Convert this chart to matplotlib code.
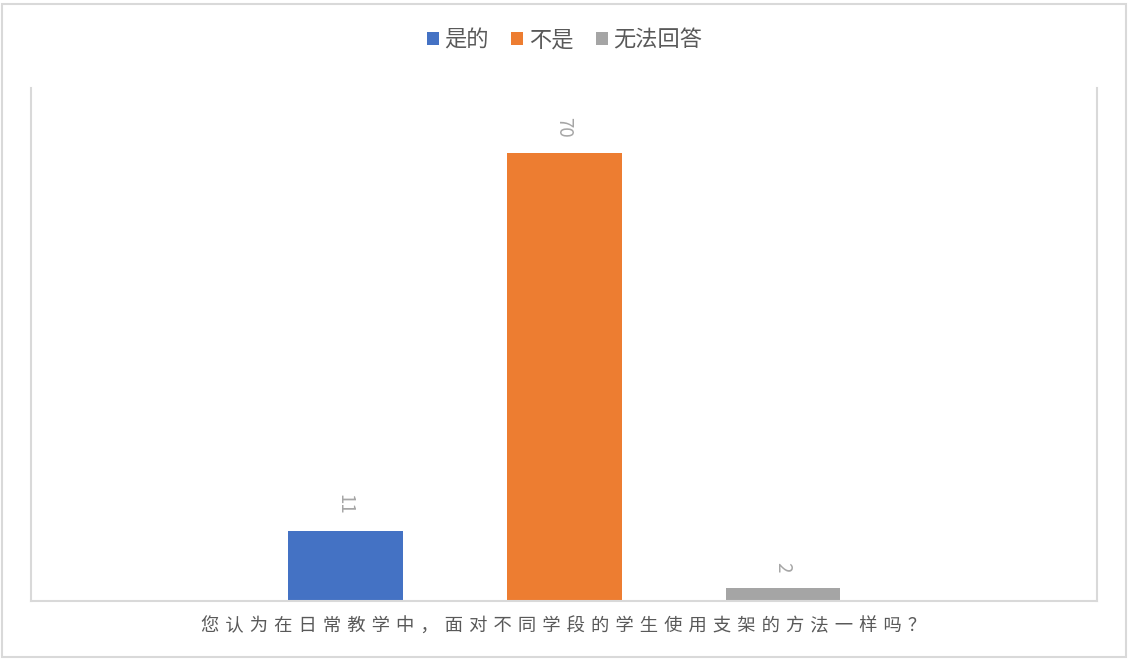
import matplotlib
matplotlib.use("Agg")
import matplotlib.pyplot as plt
from matplotlib.patches import Rectangle

plt.rcParams['font.family'] = ['Noto Sans CJK SC', 'DejaVu Sans']

# data
series = ["是的", "不是", "无法回答"]
values = [11, 70, 2]
colors = ["#4472C4", "#ED7D31", "#A5A5A5"]
question = "您认为在日常教学中，面对不同学段的学生使用支架的方法一样吗？"

fig = plt.figure(figsize=(11.36, 6.67), dpi=100)
ax = fig.add_axes([0.0273, 0.0990, 0.9384, 0.7691])

# outer chart border
fig.patches.append(Rectangle((2/1136, 10/667), 1124/1136, 653/667,
                             transform=fig.transFigure, fill=False,
                             edgecolor="#d9d9d9", linewidth=1.5))

pos = [-1, 0, 1]
for x, v, c, s in zip(pos, values, colors, series):
    ax.bar(x, v, width=0.525, color=c, label=s)
    ax.text(x, v + 2.5, str(v), rotation=270, ha="center", va="bottom",
            color="#a6a6a6", fontsize=13.5)

ax.set_xlim(-2.434, 2.434)
ax.set_ylim(0, 80.2)
ax.set_xticks([])
ax.set_yticks([])
for side in ["left", "right", "bottom"]:
    ax.spines[side].set_color("#d9d9d9")
    ax.spines[side].set_linewidth(1.5)
ax.spines["top"].set_visible(False)

# spaced-out axis title (three-per-em space between characters)
ax.set_xlabel("\u2004".join(question), color="#595959", fontsize=13.2, labelpad=12)

fig.legend(loc="center", bbox_to_anchor=(0.497, 0.94), ncol=3, frameon=False,
           fontsize=16, handlelength=0.55, handleheight=0.55, handletextpad=0.25,
           columnspacing=1.0, labelcolor="#595959")

fig.savefig("out.png", dpi=100)
